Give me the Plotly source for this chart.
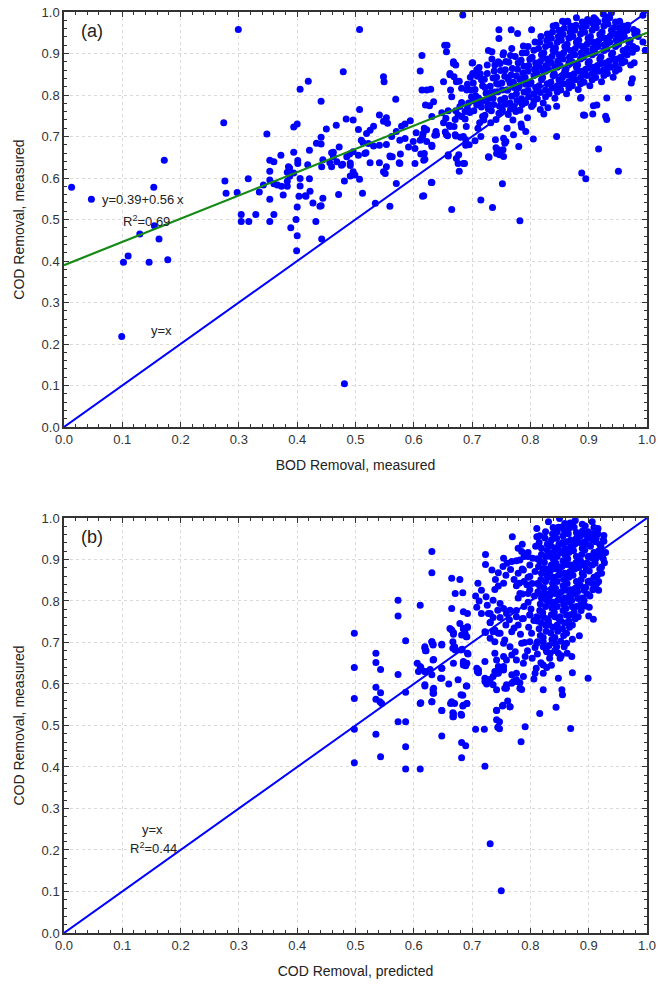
import plotly.graph_objects as go

# ---------------- Panel (a): BOD removal vs COD removal (measured) ----------------
a_left = [[0.013,0.578],[0.047,0.549],[0.099,0.218],[0.102,0.397],[0.110,0.412],[0.130,0.465],
          [0.146,0.397],[0.154,0.578],[0.155,0.485],[0.163,0.453],[0.172,0.643],[0.178,0.403],[0.481,0.104]]

a_mid = [[0.274,0.733],[0.299,0.958],[0.276,0.593],[0.278,0.563],[0.297,0.565],[0.304,0.512],[0.304,0.495],
         [0.317,0.495],[0.316,0.598],[0.329,0.512],[0.335,0.566],[0.342,0.583],[0.348,0.706],[0.353,0.643],
         [0.360,0.639],[0.353,0.616],[0.353,0.595],[0.360,0.586],[0.353,0.549],[0.360,0.512],[0.353,0.495],
         [0.372,0.655],[0.366,0.583],[0.376,0.559],[0.373,0.580],[0.383,0.614],[0.383,0.592],[0.383,0.580],
         [0.387,0.604],[0.387,0.624],[0.394,0.662],[0.401,0.642],[0.394,0.612],[0.405,0.599],[0.401,0.635],
         [0.389,0.480],[0.398,0.500],[0.400,0.530],[0.400,0.461],[0.399,0.425],[0.394,0.723],[0.400,0.730],
         [0.405,0.814],[0.419,0.833],[0.441,0.785],[0.441,0.698],[0.441,0.682],[0.433,0.684],[0.421,0.667],
         [0.418,0.632],[0.405,0.581],[0.414,0.557],[0.422,0.568],[0.427,0.540],[0.432,0.495],[0.441,0.533],
         [0.444,0.551],[0.444,0.644],[0.442,0.627],[0.450,0.718],[0.442,0.453],[0.403,0.556],[0.415,0.556],
         [0.439,0.532],[0.459,0.661],[0.472,0.675],[0.462,0.651],[0.456,0.637],[0.476,0.631],[0.459,0.627],
         [0.467,0.727],[0.471,0.560],[0.481,0.593],[0.385,0.627],[0.421,0.598]]

a_band = [[0.507,0.958],[0.479,0.856],[0.548,0.844],[0.549,0.832],[0.569,0.790],[0.507,0.765],[0.484,0.742],
          [0.496,0.740],[0.505,0.717],[0.541,0.752],[0.553,0.745],[0.555,0.732],[0.548,0.737],[0.531,0.725],
          [0.525,0.715],[0.519,0.707],[0.510,0.691],[0.513,0.685],[0.522,0.683],[0.531,0.677],[0.541,0.679],
          [0.553,0.681],[0.562,0.700],[0.570,0.712],[0.579,0.725],[0.585,0.730],[0.594,0.738],[0.576,0.691],
          [0.585,0.695],[0.591,0.675],[0.602,0.671],[0.611,0.691],[0.616,0.707],[0.622,0.716],[0.631,0.679],
          [0.636,0.703],[0.631,0.748],[0.620,0.776],[0.627,0.774],[0.634,0.784],[0.614,0.812],[0.622,0.812],
          [0.629,0.814],[0.611,0.858],[0.614,0.895],[0.516,0.659],[0.505,0.655],[0.491,0.636],[0.478,0.633],
          [0.496,0.615],[0.491,0.605],[0.499,0.607],[0.507,0.597],[0.512,0.563],[0.525,0.637],[0.541,0.637],
          [0.553,0.627],[0.551,0.611],[0.548,0.615],[0.560,0.651],[0.563,0.651],[0.576,0.635],[0.577,0.658],
          [0.570,0.587],[0.602,0.635],[0.612,0.658],[0.617,0.643],[0.630,0.589],[0.615,0.556],[0.534,0.539],
          [0.559,0.532],[0.496,0.663],[0.490,0.658],[0.485,0.651],[0.462,0.662],[0.468,0.639],[0.491,0.630],
          [0.518,0.661],[0.559,0.653],[0.575,0.637],[0.599,0.688],[0.604,0.709],[0.618,0.720],[0.615,0.700],
          [0.622,0.688],[0.618,0.659],[0.619,0.645],[0.631,0.676],[0.639,0.704],[0.638,0.712],[0.617,0.557]]

a_upper = [[0.684,0.993],[0.653,0.920],[0.656,0.904],[0.668,0.876],[0.672,0.872],[0.701,0.878],[0.662,0.852],
           [0.669,0.844],[0.651,0.832],[0.648,0.757],[0.663,0.812],[0.665,0.796],[0.673,0.832],[0.682,0.816],
           [0.659,0.762],[0.655,0.744],[0.671,0.741],[0.679,0.772],[0.688,0.760],[0.662,0.724],[0.656,0.704],
           [0.672,0.701],[0.685,0.700],[0.690,0.724],[0.695,0.680],[0.673,0.647],[0.676,0.635],[0.687,0.635],
           [0.659,0.653],[0.651,0.733],[0.661,0.727],[0.669,0.724],[0.671,0.704],[0.658,0.702],[0.680,0.698],
           [0.689,0.692],[0.689,0.679],[0.654,0.711],[0.659,0.656],[0.677,0.656],[0.685,0.635],[0.678,0.616],
           [0.665,0.524],[0.631,0.589],[0.657,0.920],[0.678,0.833],[0.662,0.849]]

a_outer = [[0.728,0.651],[0.742,0.659],[0.740,0.692],[0.754,0.696],[0.756,0.684],[0.753,0.668],[0.754,0.652],
           [0.741,0.673],[0.729,0.650],[0.747,0.656],[0.745,0.668],[0.758,0.688],[0.771,0.704],[0.780,0.676],
           [0.784,0.730],[0.785,0.722],[0.792,0.712],[0.805,0.694],[0.752,0.586],[0.715,0.547],[0.735,0.529],
           [0.782,0.497],[0.732,0.733],[0.845,0.700],[0.917,0.670],[0.888,0.612],[0.895,0.598],[0.951,0.616],
           [0.931,0.741],[0.929,0.749],[0.968,0.793],[0.973,0.829],[0.975,0.839],[0.978,0.878],[0.997,0.908],
           [0.993,0.928],[0.983,0.953],[0.893,0.751],[0.907,0.754],[0.908,0.774],[0.887,0.794],[0.931,0.793],
           [0.845,0.773],[0.830,0.769],[0.823,0.754],[0.817,0.765],[0.805,0.777],[0.886,0.792],[0.891,0.752],
           [0.914,0.776],[0.728,0.770],[0.720,0.740],[0.710,0.720],[0.705,0.690],[0.715,0.700],[0.760,0.720],
           [0.770,0.740],[0.795,0.745],[0.775,0.760],
           [0.746,0.957],[0.746,0.936],[0.767,0.957],[0.778,0.948],[0.802,0.957],[0.728,0.907],[0.734,0.904],
           [0.754,0.902],[0.745,0.880],[0.700,0.877],[0.668,0.880],[0.855,0.978],[0.902,0.978],[0.925,0.995],
           [0.939,0.998],[0.993,0.992],[0.701,0.852]]

a_dense = [[0.688,0.742],[0.694,0.781],[0.691,0.812],[0.697,0.843],[0.703,0.762],[0.706,0.798],[0.702,0.829],
           [0.708,0.861],[0.713,0.733],[0.716,0.771],[0.711,0.793],[0.718,0.822],[0.714,0.851],[0.722,0.751],
           [0.727,0.779],[0.724,0.804],[0.721,0.838],[0.726,0.872],[0.733,0.762],[0.736,0.792],[0.731,0.821],
           [0.738,0.858],[0.734,0.887],[0.741,0.741],[0.747,0.773],[0.744,0.808],[0.742,0.843],[0.748,0.876],
           [0.752,0.764],[0.756,0.792],[0.751,0.829],[0.757,0.861],[0.753,0.897],[0.762,0.753],[0.765,0.781],
           [0.761,0.812],[0.767,0.848],[0.763,0.879],[0.768,0.912],[0.772,0.772],[0.776,0.803],[0.771,0.831],
           [0.778,0.862],[0.774,0.893],[0.782,0.763],[0.785,0.791],[0.781,0.822],[0.787,0.853],[0.784,0.884],
           [0.788,0.918],[0.792,0.782],[0.796,0.811],[0.791,0.842],[0.797,0.871],[0.793,0.902],[0.802,0.772],
           [0.806,0.803],[0.801,0.831],[0.807,0.862],[0.803,0.891],[0.808,0.928],[0.812,0.791],[0.815,0.822],
           [0.811,0.853],[0.817,0.881],[0.814,0.912],[0.818,0.941],[0.822,0.781],[0.826,0.812],[0.821,0.842],
           [0.827,0.871],[0.823,0.902],[0.828,0.932],[0.832,0.803],[0.835,0.831],[0.831,0.862],[0.837,0.893],
           [0.834,0.921],[0.838,0.952],[0.842,0.792],[0.846,0.822],[0.841,0.851],[0.847,0.882],[0.843,0.913],
           [0.848,0.941],[0.844,0.968],[0.852,0.812],[0.855,0.843],[0.851,0.871],[0.857,0.902],[0.853,0.932],
           [0.858,0.961],[0.862,0.803],[0.866,0.832],[0.861,0.862],[0.867,0.891],[0.863,0.922],[0.868,0.952],
           [0.864,0.978],[0.872,0.822],[0.875,0.851],[0.871,0.881],[0.877,0.912],[0.873,0.941],[0.878,0.968],
           [0.882,0.813],[0.886,0.842],[0.881,0.872],[0.887,0.901],[0.883,0.932],[0.888,0.962],[0.892,0.831],
           [0.895,0.862],[0.891,0.891],[0.897,0.922],[0.893,0.951],[0.898,0.982],[0.902,0.822],[0.906,0.852],
           [0.901,0.881],[0.907,0.912],[0.903,0.941],[0.908,0.971],[0.912,0.842],[0.915,0.871],[0.911,0.902],
           [0.917,0.931],[0.913,0.962],[0.922,0.832],[0.926,0.861],[0.921,0.892],[0.927,0.921],[0.923,0.952],
           [0.928,0.981],[0.932,0.852],[0.935,0.882],[0.931,0.911],[0.937,0.942],[0.933,0.971],[0.942,0.843],
           [0.946,0.872],[0.941,0.901],[0.947,0.932],[0.943,0.962],[0.952,0.862],[0.955,0.891],[0.951,0.922],
           [0.957,0.951],[0.953,0.978],[0.962,0.881],[0.966,0.912],[0.961,0.941],[0.967,0.968],[0.972,0.872],
           [0.975,0.903],[0.971,0.932],[0.977,0.958],[0.982,0.912],[0.985,0.941],
           [0.696,0.758],[0.699,0.796],[0.692,0.826],[0.708,0.776],[0.705,0.813],[0.709,0.845],[0.718,0.748],
           [0.719,0.787],[0.716,0.837],[0.712,0.866],[0.728,0.766],[0.729,0.793],[0.726,0.852],[0.737,0.777],
           [0.739,0.807],[0.736,0.841],[0.739,0.872],[0.746,0.756],[0.749,0.788],[0.745,0.826],[0.749,0.859],
           [0.757,0.778],[0.759,0.812],[0.756,0.845],[0.758,0.881],[0.766,0.766],[0.768,0.797],[0.765,0.829],
           [0.769,0.864],[0.766,0.895],[0.777,0.787],[0.779,0.817],[0.776,0.846],[0.779,0.878],[0.786,0.777],
           [0.789,0.807],[0.786,0.838],[0.789,0.869],[0.786,0.901],[0.797,0.796],[0.799,0.826],[0.796,0.857],
           [0.799,0.886],[0.796,0.917],[0.806,0.787],[0.809,0.818],[0.806,0.847],[0.809,0.877],[0.806,0.908],
           [0.817,0.806],[0.819,0.837],[0.816,0.867],[0.819,0.897],[0.816,0.927],[0.826,0.796],[0.829,0.827],
           [0.826,0.857],[0.829,0.887],[0.826,0.917],[0.829,0.947],[0.837,0.817],[0.839,0.847],[0.836,0.877],
           [0.839,0.907],[0.836,0.937],[0.839,0.966],[0.846,0.807],[0.849,0.837],[0.846,0.867],[0.849,0.897],
           [0.846,0.927],[0.849,0.956],[0.857,0.827],[0.859,0.857],[0.856,0.887],[0.859,0.917],[0.856,0.946],
           [0.859,0.976],[0.866,0.817],[0.869,0.847],[0.866,0.877],[0.869,0.907],[0.866,0.937],[0.869,0.966],
           [0.877,0.837],[0.879,0.867],[0.876,0.897],[0.879,0.927],[0.876,0.956],[0.879,0.986],[0.886,0.827],
           [0.889,0.857],[0.886,0.887],[0.889,0.917],[0.886,0.947],[0.889,0.976],[0.897,0.847],[0.899,0.877],
           [0.896,0.907],[0.899,0.937],[0.896,0.966],[0.906,0.837],[0.909,0.867],[0.906,0.897],[0.909,0.927],
           [0.906,0.956],[0.909,0.986],[0.917,0.857],[0.919,0.887],[0.916,0.917],[0.919,0.946],[0.916,0.976],
           [0.926,0.847],[0.929,0.877],[0.926,0.907],[0.929,0.937],[0.926,0.966],[0.937,0.867],[0.939,0.897],
           [0.936,0.927],[0.939,0.956],[0.936,0.986],[0.946,0.857],[0.949,0.887],[0.946,0.917],[0.949,0.947],
           [0.946,0.976],[0.957,0.877],[0.959,0.907],[0.956,0.937],[0.959,0.966],[0.966,0.897],[0.969,0.927],
           [0.966,0.956],[0.976,0.917],[0.979,0.947]]

a_fill = [[0.812,0.868],[0.822,0.889],[0.832,0.878],[0.842,0.905],[0.852,0.889],[0.862,0.912],[0.872,0.897],
          [0.882,0.921],[0.892,0.906],[0.902,0.928],[0.912,0.915],[0.922,0.938],[0.932,0.925],[0.942,0.947],
          [0.952,0.935],[0.962,0.955],[0.832,0.938],[0.852,0.952],[0.872,0.958],[0.892,0.968],[0.912,0.982],
          [0.932,0.988],[0.952,0.962],[0.822,0.858],[0.842,0.868],[0.862,0.848],[0.882,0.858],[0.902,0.866],
          [0.922,0.876],[0.942,0.886],[0.962,0.898],[0.852,0.828],[0.872,0.838],[0.892,0.848],[0.912,0.858],
          [0.932,0.866],[0.772,0.818],[0.752,0.812],[0.732,0.806],[0.712,0.781],[0.792,0.826],[0.782,0.838],
          [0.762,0.838],[0.742,0.828],[0.722,0.818],[0.702,0.786],[0.692,0.768],[0.672,0.762],[0.682,0.782],
          [0.676,0.752],[0.698,0.812],[0.682,0.748]]

# regression line of panel (a)
a_intercept = 0.39
a_slope = 0.56

# ---------------- Panel (b): COD removal predicted vs measured ----------------
b_sparse = [[0.498,0.722],[0.498,0.640],[0.498,0.565],[0.498,0.491],[0.498,0.410],
            [0.535,0.674],[0.535,0.652],[0.543,0.635],[0.535,0.592],[0.543,0.579],[0.535,0.563],[0.542,0.557],
            [0.545,0.553],[0.535,0.479],[0.543,0.425],[0.573,0.802],[0.573,0.764],[0.611,0.790],[0.586,0.704],
            [0.573,0.623],[0.586,0.580],[0.573,0.509],[0.586,0.509],[0.586,0.449],[0.586,0.395],[0.611,0.395],
            [0.631,0.919],[0.631,0.868],[0.611,0.642],[0.612,0.555],[0.619,0.690],[0.620,0.680],[0.631,0.702],
            [0.633,0.696],[0.648,0.696],[0.619,0.630],[0.631,0.622],[0.634,0.659],[0.648,0.638],[0.648,0.614],
            [0.619,0.598],[0.634,0.590],[0.634,0.578],[0.631,0.557],[0.648,0.536],[0.648,0.475],[0.608,0.630],
            [0.606,0.650],[0.665,0.855],[0.671,0.818],[0.679,0.852],[0.684,0.820],[0.665,0.782],[0.685,0.774],
            [0.692,0.770],[0.662,0.734],[0.668,0.724],[0.685,0.734],[0.682,0.718],[0.690,0.714],[0.692,0.738],
            [0.670,0.690],[0.683,0.684],[0.693,0.672],[0.668,0.650],[0.685,0.650],[0.689,0.644],[0.663,0.553],
            [0.668,0.529],[0.667,0.521],[0.681,0.527],[0.685,0.549],[0.691,0.553],[0.691,0.595],[0.681,0.574],
            [0.682,0.459],[0.689,0.451],[0.682,0.422],[0.660,0.600],[0.676,0.610],[0.710,0.843],[0.708,0.785],
            [0.724,0.810],[0.723,0.912],[0.723,0.888],[0.711,0.634],[0.711,0.627],[0.722,0.726],[0.731,0.748],
            [0.728,0.770],[0.706,0.491],[0.721,0.491],[0.742,0.514],[0.744,0.496],[0.722,0.402],[0.731,0.215],
            [0.750,0.102],[0.784,0.461],[0.791,0.497],[0.816,0.529],[0.844,0.544],[0.848,0.614],[0.872,0.627],
            [0.899,0.614],[0.854,0.586],[0.855,0.574],[0.869,0.493],[0.863,0.674],[0.884,0.716],[0.769,0.955],
            [0.822,0.586]]

b_mid = [[0.739,0.730],[0.748,0.722],[0.756,0.706],[0.768,0.726],[0.776,0.762],[0.779,0.742],[0.788,0.758],
         [0.799,0.766],[0.754,0.698],[0.765,0.690],[0.774,0.678],[0.785,0.698],[0.799,0.702],[0.811,0.698],
         [0.822,0.690],[0.828,0.678],[0.834,0.674],[0.845,0.690],[0.848,0.674],[0.851,0.662],[0.871,0.666],
         [0.739,0.674],[0.742,0.658],[0.745,0.642],[0.754,0.666],[0.759,0.658],[0.768,0.670],[0.776,0.658],
         [0.788,0.650],[0.791,0.666],[0.739,0.630],[0.745,0.626],[0.754,0.634],[0.768,0.622],[0.776,0.626],
         [0.788,0.618],[0.808,0.626],[0.810,0.638],[0.822,0.626],[0.822,0.646],[0.722,0.606],[0.728,0.610],
         [0.736,0.598],[0.759,0.598],[0.768,0.602],[0.776,0.606],[0.782,0.603],[0.785,0.587],[0.742,0.586],
         [0.756,0.590],[0.753,0.549],[0.761,0.559],[0.765,0.545],[0.742,0.537],[0.736,0.802],[0.748,0.794],
         [0.754,0.782],[0.759,0.770],[0.765,0.778],[0.739,0.828],[0.745,0.836],[0.754,0.843],[0.754,0.903],
         [0.753,0.883],[0.760,0.891],[0.768,0.895],[0.785,0.919],[0.782,0.899],[0.796,0.907],[0.788,0.875],
         [0.799,0.859],[0.781,0.843],[0.794,0.839],[0.796,0.818],[0.782,0.818],[0.811,0.975],[0.811,0.955],
         [0.831,0.991],[0.850,0.999],[0.877,0.994],[0.906,0.991],[0.894,0.788],[0.901,0.785],[0.900,0.764],
         [0.908,0.756],[0.917,0.826],[0.914,0.843],[0.922,0.867],[0.925,0.915],[0.925,0.947],[0.731,0.770],
         [0.731,0.748],[0.723,0.724],[0.731,0.710],[0.739,0.702],[0.736,0.726],[0.745,0.722],[0.708,0.638],
         [0.709,0.630],[0.722,0.614],[0.725,0.600],[0.731,0.610],[0.736,0.618],[0.742,0.626],[0.748,0.634],
         [0.754,0.642],[0.722,0.654],[0.742,0.536],[0.747,0.509],[0.747,0.492],[0.752,0.547],[0.765,0.545],
         [0.759,0.590],[0.771,0.606],[0.776,0.610],[0.782,0.590],[0.665,0.730],[0.668,0.720],[0.679,0.746],
         [0.685,0.734],[0.692,0.736],[0.688,0.722],[0.691,0.714],[0.619,0.686],[0.621,0.680],[0.631,0.702],
         [0.633,0.694],[0.648,0.694],[0.633,0.658],[0.612,0.640],[0.619,0.630],[0.628,0.635],[0.648,0.638],
         [0.646,0.614],[0.667,0.702],[0.667,0.686],[0.671,0.682],[0.681,0.682],[0.692,0.674],[0.685,0.654],
         [0.685,0.646],[0.691,0.650],[0.619,0.595],[0.633,0.586],[0.633,0.578],[0.611,0.553],[0.631,0.557],
         [0.648,0.536],[0.665,0.557],[0.670,0.553],[0.690,0.595],[0.684,0.573],[0.684,0.547],[0.691,0.553],
         [0.667,0.531],[0.668,0.521],[0.682,0.525]]

b_dense = [[0.802,0.722],[0.806,0.753],[0.801,0.781],[0.807,0.812],[0.803,0.842],[0.808,0.871],[0.804,0.903],
           [0.809,0.932],[0.812,0.702],[0.815,0.733],[0.811,0.762],[0.817,0.793],[0.813,0.822],[0.818,0.852],
           [0.814,0.883],[0.819,0.912],[0.815,0.941],[0.822,0.712],[0.826,0.742],[0.821,0.772],[0.827,0.803],
           [0.823,0.832],[0.828,0.862],[0.824,0.893],[0.829,0.922],[0.825,0.952],[0.832,0.693],[0.835,0.723],
           [0.831,0.752],[0.837,0.783],[0.833,0.812],[0.838,0.843],[0.834,0.872],[0.839,0.902],[0.835,0.933],
           [0.838,0.962],[0.842,0.712],[0.846,0.742],[0.841,0.773],[0.847,0.802],[0.843,0.831],[0.848,0.862],
           [0.844,0.891],[0.849,0.922],[0.845,0.951],[0.848,0.978],[0.852,0.703],[0.855,0.733],[0.851,0.762],
           [0.857,0.792],[0.853,0.822],[0.858,0.852],[0.854,0.883],[0.859,0.912],[0.855,0.941],[0.858,0.971],
           [0.862,0.722],[0.866,0.752],[0.861,0.782],[0.867,0.812],[0.863,0.842],[0.868,0.871],[0.864,0.902],
           [0.869,0.931],[0.865,0.962],[0.868,0.988],[0.872,0.742],[0.875,0.772],[0.871,0.802],[0.877,0.831],
           [0.873,0.862],[0.878,0.892],[0.874,0.921],[0.879,0.952],[0.875,0.978],[0.882,0.762],[0.886,0.791],
           [0.881,0.822],[0.887,0.852],[0.883,0.881],[0.888,0.912],[0.884,0.941],[0.889,0.968],[0.892,0.802],
           [0.895,0.833],[0.891,0.862],[0.897,0.892],[0.893,0.922],[0.898,0.951],[0.894,0.981],[0.902,0.812],
           [0.906,0.842],[0.901,0.872],[0.907,0.903],[0.903,0.932],[0.908,0.962],[0.912,0.832],[0.915,0.862],
           [0.911,0.891],[0.917,0.921],[0.913,0.952],[0.916,0.975],[0.922,0.882],[0.925,0.902],[0.921,0.932],
           [0.926,0.958],
           [0.797,0.737],[0.799,0.767],[0.796,0.797],[0.799,0.827],[0.796,0.857],[0.799,0.887],[0.796,0.917],
           [0.786,0.757],[0.789,0.787],[0.786,0.817],[0.789,0.847],[0.786,0.877],[0.789,0.907],[0.786,0.937],
           [0.776,0.777],[0.779,0.807],[0.776,0.837],[0.779,0.867],[0.776,0.897],[0.779,0.927],[0.817,0.717],
           [0.819,0.747],[0.816,0.777],[0.819,0.807],[0.816,0.837],[0.819,0.867],[0.816,0.897],[0.819,0.927],
           [0.816,0.957],[0.827,0.727],[0.829,0.757],[0.826,0.787],[0.829,0.817],[0.826,0.847],[0.829,0.877],
           [0.826,0.907],[0.829,0.937],[0.826,0.967],[0.837,0.707],[0.839,0.737],[0.836,0.767],[0.839,0.797],
           [0.836,0.827],[0.839,0.857],[0.836,0.887],[0.839,0.917],[0.836,0.947],[0.839,0.977],[0.847,0.727],
           [0.849,0.757],[0.846,0.787],[0.849,0.817],[0.846,0.847],[0.849,0.877],[0.846,0.907],[0.849,0.937],
           [0.846,0.967],[0.857,0.717],[0.859,0.747],[0.856,0.777],[0.859,0.807],[0.856,0.837],[0.859,0.867],
           [0.856,0.897],[0.859,0.927],[0.856,0.957],[0.859,0.987],[0.867,0.737],[0.869,0.767],[0.866,0.797],
           [0.869,0.827],[0.866,0.857],[0.869,0.887],[0.866,0.917],[0.869,0.947],[0.866,0.975],[0.877,0.757],
           [0.879,0.787],[0.876,0.817],[0.879,0.847],[0.876,0.877],[0.879,0.907],[0.876,0.937],[0.879,0.965],
           [0.887,0.777],[0.889,0.807],[0.886,0.837],[0.889,0.867],[0.886,0.897],[0.889,0.927],[0.886,0.957],
           [0.889,0.985],[0.897,0.817],[0.899,0.847],[0.896,0.877],[0.899,0.907],[0.896,0.937],[0.899,0.967],
           [0.907,0.827],[0.909,0.857],[0.906,0.887],[0.909,0.917],[0.906,0.947],[0.909,0.977],[0.917,0.847],
           [0.919,0.877],[0.916,0.907],[0.919,0.937],[0.916,0.962],[0.927,0.892],[0.929,0.917],[0.926,0.944],
           [0.803,0.662],[0.812,0.672],[0.818,0.651],[0.827,0.682],[0.833,0.662],[0.842,0.681],[0.853,0.668],
           [0.808,0.688],[0.836,0.645],[0.858,0.690],[0.806,0.612],[0.828,0.640],[0.795,0.680],[0.790,0.700],
           [0.783,0.720],[0.772,0.735],[0.764,0.755],[0.758,0.742],[0.748,0.760],[0.744,0.778],[0.736,0.760],
           [0.726,0.790],[0.716,0.770],[0.712,0.800],[0.716,0.826],[0.706,0.812],[0.740,0.852],[0.734,0.875],
           [0.745,0.868],[0.758,0.862],[0.766,0.876],[0.772,0.852]]

b_fill = [[0.832,0.857],[0.842,0.878],[0.852,0.866],[0.862,0.888],[0.872,0.876],[0.882,0.897],[0.892,0.886],
          [0.902,0.908],[0.842,0.928],[0.852,0.917],[0.862,0.943],[0.872,0.932],[0.882,0.953],[0.892,0.942],
          [0.902,0.962],[0.912,0.943],[0.852,0.803],[0.862,0.826],[0.872,0.816],[0.882,0.836],[0.892,0.826],
          [0.902,0.848],[0.842,0.818],[0.832,0.797],[0.822,0.818],[0.812,0.842],[0.822,0.878],[0.812,0.902],
          [0.832,0.908],[0.842,0.952],[0.852,0.978],[0.872,0.988],[0.892,0.962],[0.912,0.902],[0.862,0.766],
          [0.872,0.786],[0.852,0.752],[0.842,0.762],[0.832,0.742],[0.822,0.762],[0.812,0.752],[0.882,0.806],
          [0.872,0.708],[0.862,0.698],[0.842,0.698],[0.822,0.702]]

tick_vals = [0.0, 0.1, 0.2, 0.3, 0.4, 0.5, 0.6, 0.7, 0.8, 0.9, 1.0]
tick_text = ["0.0", "0.1", "0.2", "0.3", "0.4", "0.5", "0.6", "0.7", "0.8", "0.9", "1.0"]

# ---------------- build figure ----------------
FONT = "Liberation Sans, Arial, sans-serif"
BLUE = "#0000FF"
GREEN = "#168A16"

a_pts = a_left + a_mid + a_band + a_upper + a_outer + a_dense + a_fill
b_pts = b_sparse + b_mid + b_dense + b_fill

fig = go.Figure()

fig.add_trace(go.Scatter(x=[p[0] for p in a_pts], y=[p[1] for p in a_pts], mode="markers",
                         marker=dict(color=BLUE, size=7, line=dict(width=0)),
                         xaxis="x", yaxis="y", showlegend=False))
fig.add_trace(go.Scatter(x=[0, 1], y=[0, 1], mode="lines", line=dict(color=BLUE, width=2),
                         xaxis="x", yaxis="y", showlegend=False))
fig.add_trace(go.Scatter(x=[0, 1], y=[a_intercept, a_intercept + a_slope], mode="lines",
                         line=dict(color=GREEN, width=2.2), xaxis="x", yaxis="y", showlegend=False))

fig.add_trace(go.Scatter(x=[p[0] for p in b_pts], y=[p[1] for p in b_pts], mode="markers",
                         marker=dict(color=BLUE, size=7, line=dict(width=0)),
                         xaxis="x2", yaxis="y2", showlegend=False))
fig.add_trace(go.Scatter(x=[0, 1], y=[0, 1], mode="lines", line=dict(color=BLUE, width=2),
                         xaxis="x2", yaxis="y2", showlegend=False))

def axis_style(title, standoff, domain=None, anchor=None):
    d = dict(range=[0, 1], tickvals=tick_vals, ticktext=tick_text, automargin=False,
             showgrid=True, gridcolor="#dadada", griddash="dot", gridwidth=1,
             zeroline=False, showline=True, linecolor="#333333", linewidth=1.5, mirror="ticks",
             ticks="inside", ticklen=5, tickcolor="#333333", tickwidth=1,
             minor=dict(dtick=0.02, ticks="inside", ticklen=3, tickcolor="#333333", showgrid=False),
             tickfont=dict(family=FONT, size=13, color="#333333"),
             title=dict(text=title, font=dict(family=FONT, size=14, color="#222222"), standoff=standoff))
    if domain is not None:
        d["domain"] = domain
    if anchor is not None:
        d["anchor"] = anchor
    return d

fig.update_layout(
    width=658, height=988, autosize=False,
    margin=dict(l=64, r=11, t=12, b=55),
    paper_bgcolor="white", plot_bgcolor="white",
    font=dict(family=FONT, size=13, color="#222222"),
    xaxis=axis_style("BOD Removal, measured", 14, anchor="y"),
    yaxis=axis_style("COD Removal, measured", 14, domain=[0.5494, 1.0], anchor="x"),
    xaxis2=axis_style("COD Removal, predicted", 14, anchor="y2"),
    yaxis2=axis_style("COD Removal, measured", 14, domain=[0.0, 0.4506], anchor="x2"),
)

ann_font = dict(family=FONT, size=13, color="#222222")
fig.add_annotation(x=0.025, y=0.955, xref="x", yref="y", text="(a)", showarrow=False,
                   xanchor="left", yanchor="middle", font=dict(family=FONT, size=18, color="#222222"))
fig.add_annotation(x=0.062, y=0.549, xref="x", yref="y", text="y=0.39+0.56\u2009x", showarrow=False,
                   xanchor="left", yanchor="middle", font=ann_font)
fig.add_annotation(x=0.098, y=0.497, xref="x", yref="y", text="R<sup>2</sup>=0.69", showarrow=False,
                   xanchor="left", yanchor="middle", font=ann_font)
fig.add_annotation(x=0.145, y=0.232, xref="x", yref="y", text="y=x", showarrow=False,
                   xanchor="left", yanchor="middle", font=ann_font)

fig.add_annotation(x=0.025, y=0.955, xref="x2", yref="y2", text="(b)", showarrow=False,
                   xanchor="left", yanchor="middle", font=dict(family=FONT, size=18, color="#222222"))
fig.add_annotation(x=0.13, y=0.25, xref="x2", yref="y2", text="y=x", showarrow=False,
                   xanchor="left", yanchor="middle", font=ann_font)
fig.add_annotation(x=0.11, y=0.205, xref="x2", yref="y2", text="R<sup>2</sup>=0.44", showarrow=False,
                   xanchor="left", yanchor="middle", font=ann_font)

fig.write_html("out.html")
